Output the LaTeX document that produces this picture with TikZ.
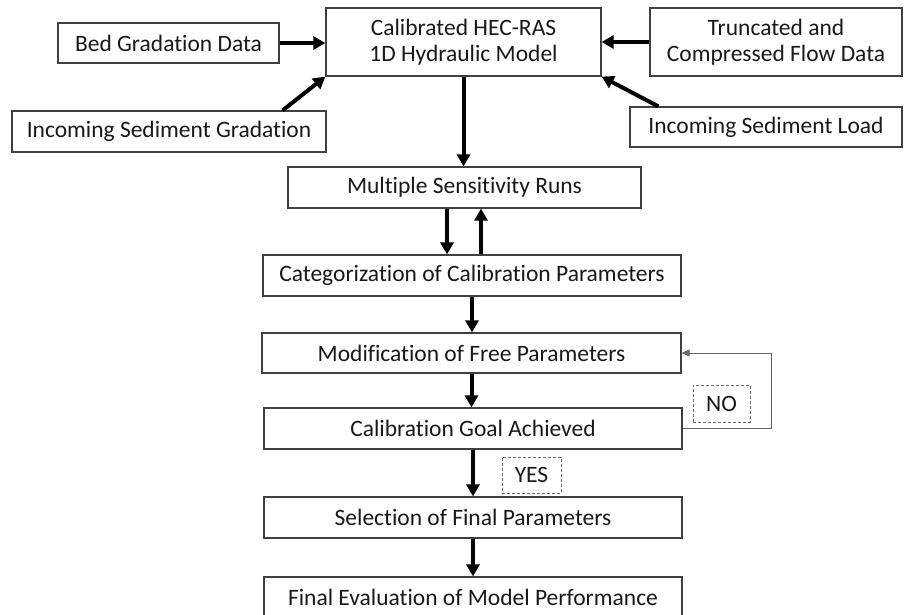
\documentclass[tikz,border=0pt]{standalone}
\usepackage{fontspec}
\setmainfont{Carlito}[Ligatures=NoCommon]
\usetikzlibrary{arrows.meta}

\begin{document}
\begin{tikzpicture}[x=1pt, y=-1pt,
	bstyle/.style={rectangle, draw=black!75, line width=1.2pt, fill=white, 
	text=black!90, inner sep=0pt, align=center, 
	font=\fontsize{23.5}{26}\selectfont},
	dstyle/.style={bstyle, draw=black!60, line width=1pt, 
	dash pattern=on 3pt off 2pt},
	fatarrow/.style={line width=4pt, -{Triangle[length=12pt,width=13pt]}},
	backarrow/.style={draw=black!60, line width=1pt, 
	-{Triangle[length=8pt,width=7pt]}}
	]
	\useasboundingbox (0,0) rectangle (904,615);
	\draw(463.5,42)node[bstyle, minimum width=275pt, minimum height=68pt] (calib) {Calibrated HEC-RAS\\1D Hydraulic Model};
	\draw(168.5,43)node[bstyle, minimum width=221pt, minimum height=40pt] (bed) {Bed Gradation Data};
	\draw(776,42)node[bstyle, minimum width=252pt, minimum height=68pt] (flow) {Truncated and\\Compressed Flow Data};
	\draw(169,131.5)node[bstyle, minimum width=314pt, minimum height=41pt] (sedgrad) {Incoming Sediment Gradation};
	\draw(766,127)node[bstyle, minimum width=272pt, minimum height=40pt] (sedload) {Incoming Sediment Load};
	\draw(464.5,187.5)node[bstyle, minimum width=353pt, minimum height=41pt] (runs) {Multiple Sensitivity Runs};
	\draw(472,275.5)node[bstyle, minimum width=418pt, minimum height=41pt] (categ) {Categorization of Calibration Parameters};
	\draw(471.5,353)node[bstyle, minimum width=419pt, minimum height=40pt] (modif) {Modification of Free Parameters};
	\draw(473,428.5)node[bstyle, minimum width=418pt, minimum height=41pt] (goal) {Calibration Goal Achieved};
	\draw(473,517.5)node[bstyle, minimum width=418pt, minimum height=41pt] (select) {Selection of Final Parameters};
	\draw(473,597.5)node[bstyle, minimum width=418pt, minimum height=41pt] (final) {Final Evaluation of Model Performance};
	\draw(721.5,403.5)node[dstyle, minimum width=57pt, minimum height=37pt] (no) {NO};
	\draw(531.5,475)node[dstyle, minimum width=59pt, minimum height=36pt] (yes) {YES};
	\draw[fatarrow] (bed.east) -- (bed.east -| calib.west);
	\draw[fatarrow] (flow.west) -- (flow.west -| calib.east);
	\draw[fatarrow] ([xshift=-44pt]sedgrad.north east) -- (calib.south west);
	\draw[fatarrow] ([xshift=29pt]sedload.north west) -- (calib.south east);
	\draw[fatarrow] (calib.south) -- (calib.south |- runs.north);
	\draw[fatarrow] ([xshift=-17.5pt]runs.south) -- ([xshift=-17.5pt]runs.south |- categ.north);
	\draw[fatarrow] ([xshift=16.5pt]runs.south |- categ.north) -- ([xshift=16.5pt]runs.south);
	\draw[fatarrow] (categ.south) -- (categ.south |- modif.north);
	\draw[fatarrow] (modif.south) -- (modif.south |- goal.north);
	\draw[fatarrow] (goal.south) -- (goal.south |- select.north);
	\draw[fatarrow] (select.south) -- (select.south |- final.north);
	\draw[backarrow] (goal.east) -- ++(89,0) |- (modif.east);
\end{tikzpicture}
\end{document}
